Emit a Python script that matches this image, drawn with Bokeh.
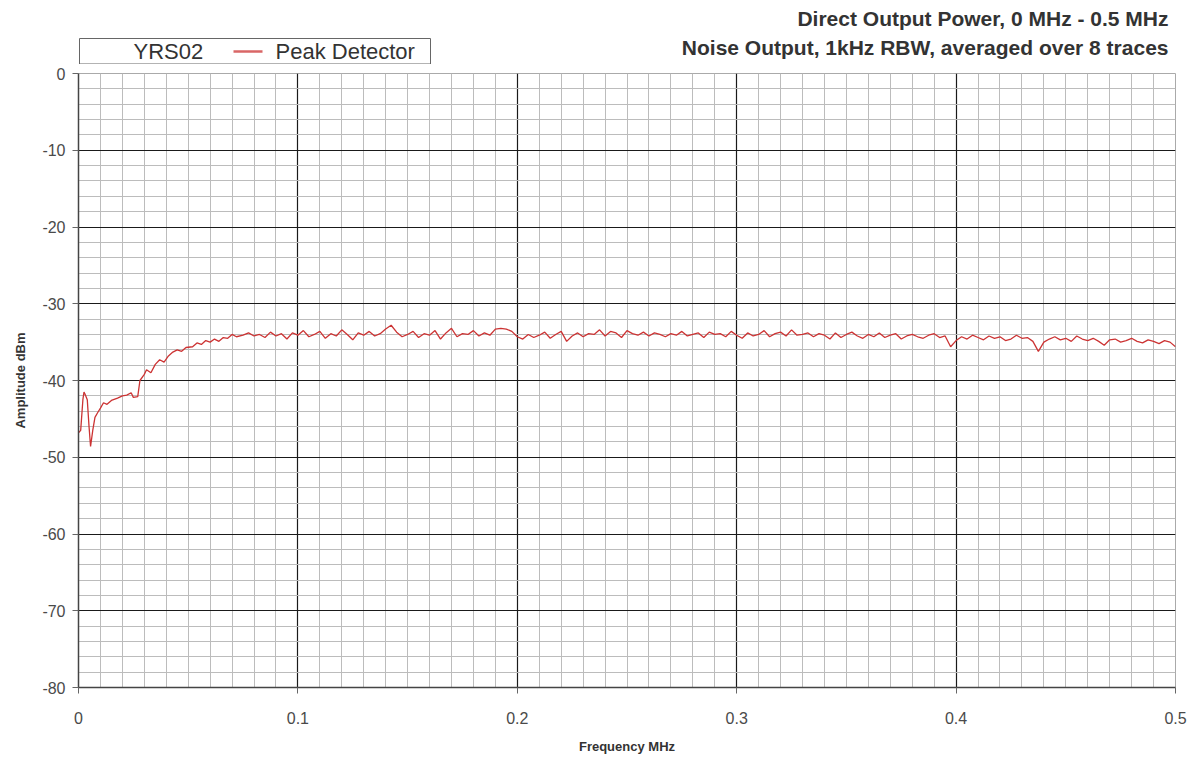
from bokeh.plotting import figure
from bokeh.layouts import column
from bokeh.models import FixedTicker, Label, Range1d
from bokeh.embed import file_html
from bokeh.resources import INLINE

# ---- data ----
freq_start = [0.0, 0.001, 0.002, 0.0025, 0.003, 0.004, 0.0048, 0.0055, 0.0065, 0.0075,
              0.0087, 0.010, 0.0114, 0.013, 0.015, 0.0178, 0.020, 0.022, 0.024, 0.025,
              0.027, 0.028, 0.030, 0.031, 0.033, 0.035, 0.037, 0.039, 0.041, 0.043,
              0.045, 0.047, 0.049, 0.052, 0.054, 0.056, 0.058, 0.060, 0.062, 0.064,
              0.066, 0.068, 0.070, 0.072, 0.075, 0.0775, 0.080, 0.0825]
amp_start = [-46.8, -46.5, -42.5, -41.5, -41.8, -42.5, -46.0, -48.6, -46.5, -44.8,
             -44.2, -43.6, -42.9, -43.1, -42.6, -42.3, -42.0, -41.9, -41.6, -42.2,
             -42.1, -40.0, -39.2, -38.6, -39.0, -37.9, -37.3, -37.6, -36.8, -36.3,
             -36.0, -36.2, -35.7, -35.6, -35.1, -35.3, -34.8, -35.0, -34.6, -34.9,
             -34.4, -34.5, -34.0, -34.3, -34.1, -33.8, -34.2, -34.0]

# 0.085 .. 0.5 MHz, 2.5 kHz steps
step_khz = 2.5
amp_flat = [
    -34.4, -33.7, -34.2, -33.9, -34.6, -33.8, -34.1, -33.5, -34.3, -34.0,
    -33.6, -34.5, -33.9, -34.2, -33.4, -34.0, -34.7, -33.8, -34.1, -33.6,
    -34.2, -33.9, -33.3, -32.8, -33.7, -34.3, -34.0, -33.6, -34.4, -33.9,
    -34.1, -33.5, -34.6, -33.8, -33.2, -34.3, -33.9, -34.0, -33.5, -34.2,
    -33.8, -34.1, -33.3, -33.2, -33.3, -33.6, -34.3, -34.6, -34.0, -34.4,
    -34.1, -33.7, -34.5, -34.0, -33.6, -34.9, -34.2, -33.8, -34.3, -33.9,
    -34.0, -33.4, -34.2, -33.6, -33.8, -34.4, -33.5, -33.9, -34.1, -33.7,
    -34.2, -33.8, -34.0, -34.3, -33.9, -34.1, -33.6, -34.2, -34.0, -33.8,
    -34.4, -33.7, -34.0, -33.9, -34.3, -33.6, -34.1, -34.5, -33.8, -34.2,
    -34.0, -33.5, -34.3, -33.9, -33.7, -34.2, -33.4, -34.1, -34.0, -33.8,
    -34.3, -33.9, -34.1, -34.6, -33.8, -34.4, -34.0, -33.7, -34.2, -34.5,
    -34.0, -34.3, -33.8, -34.4, -34.1, -33.9, -34.6, -34.2, -34.0, -34.3,
    -34.5, -34.1, -33.9, -34.4, -34.2, -35.6, -34.8, -34.3, -34.6, -34.1,
    -34.4, -34.7, -34.2, -34.5, -34.3, -34.8, -34.6, -34.1, -34.5, -34.4,
    -34.9, -36.2, -35.0, -34.6, -34.3, -34.7, -34.5, -34.9, -34.2, -34.6,
    -34.8, -34.5, -34.9, -35.4, -34.7, -34.6, -35.0, -34.8, -34.5, -34.9,
    -35.1, -34.7, -34.9, -35.2, -34.8, -35.0, -35.6]
freq_flat = [round((85 + i * step_khz) / 1000.0, 4) for i in range(len(amp_flat))]

freq = freq_start + freq_flat
amp = amp_start + amp_flat

x_ticks = [0, 0.1, 0.2, 0.3, 0.4, 0.5]
y_ticks = [0, -10, -20, -30, -40, -50, -60, -70, -80]
y_tick_labels = ["0", "-10", "-20", "-30", "-40", "-50", "-60", "-70", "-80"]

title1 = "Direct Output Power, 0 MHz - 0.5 MHz"
title2 = "Noise Output, 1kHz RBW, averaged over 8 traces"
legend_name = "YRS02"
series_name = "Peak Detector"

FONT = "Liberation Sans"
LINE_COLOR = "#cc3333"
W = 1194
LEFT, RIGHT = 78, 19

# ---------------- header (titles + legend box) ----------------
# its frame is aligned with the chart frame by the column layout (page x 78..1175)
hdr = figure(width=W, height=64, output_backend="svg", toolbar_location=None,
             x_range=Range1d(LEFT, W - RIGHT), y_range=Range1d(64, 0),
             x_axis_type=None, y_axis_type=None,
             min_border_left=LEFT, min_border_right=RIGHT,
             min_border_top=0, min_border_bottom=0)
hdr.outline_line_color = None
hdr.xgrid.visible = False
hdr.ygrid.visible = False
hdr.background_fill_color = "white"
hdr.border_fill_color = "white"

for txt, yy in ((title1, 18), (title2, 47)):
    hdr.add_layout(Label(x=1168, y=yy, text=txt, text_align="right",
                         text_baseline="middle", text_font=FONT,
                         text_font_size="21px", text_font_style="bold",
                         text_color="#333333"))

# legend box
hdr.quad(left=[79], right=[430], top=[38], bottom=[63.5],
         fill_color="white", line_color="#666666", line_width=1)
hdr.add_layout(Label(x=133, y=51, text=legend_name, text_align="left",
                     text_baseline="middle", text_font=FONT,
                     text_font_size="22px", text_color="#333333"))
hdr.line([233, 262], [51, 51], line_color=LINE_COLOR, line_width=2.5, line_alpha=0.75)
hdr.add_layout(Label(x=275, y=51, text=series_name, text_align="left",
                     text_baseline="middle", text_font=FONT,
                     text_font_size="22px", text_color="#333333"))

# ---------------- main chart ----------------
p = figure(width=W, height=692, output_backend="svg", toolbar_location=None,
           x_range=Range1d(0, 0.5), y_range=Range1d(-80, 0),
           min_border_left=LEFT, min_border_right=RIGHT, min_border_top=9,
           min_border_bottom=68)
p.background_fill_color = "white"
p.border_fill_color = "white"
p.outline_line_color = "#aaaaaa"

p.xgrid.ticker = FixedTicker(ticks=[0.1, 0.2, 0.3, 0.4],
                             minor_ticks=[i / 100 for i in range(1, 51)])
p.ygrid.ticker = FixedTicker(ticks=[-10, -20, -30, -40, -50, -60, -70],
                             minor_ticks=[-2 * i for i in range(0, 41)])
for g in (p.xgrid, p.ygrid):
    g.grid_line_color = "#1a1a1a"
    g.grid_line_width = 1.2
    g.minor_grid_line_color = "#bcbcbc"
    g.minor_grid_line_width = 1

p.xaxis.ticker = FixedTicker(ticks=x_ticks)
p.yaxis.ticker = FixedTicker(ticks=y_ticks)
p.yaxis.major_label_overrides = {t: s for t, s in zip(y_ticks, y_tick_labels)}
for ax in (p.xaxis, p.yaxis):
    ax.axis_line_color = "#444444"
    ax.axis_line_width = 1.5
    ax.major_tick_line_color = "#666666"
    ax.major_tick_out = 6
    ax.major_tick_in = 0
    ax.minor_tick_line_color = None
    ax.major_label_text_font = FONT
    ax.major_label_text_font_size = "16px"
    ax.major_label_text_color = "#4a4a4a"
    ax.axis_label_text_font = FONT
    ax.axis_label_text_font_size = "13px"
    ax.axis_label_text_font_style = "bold"
    ax.axis_label_text_color = "#333333"
p.xaxis.major_label_standoff = 18
p.yaxis.major_label_standoff = 7
p.xaxis.axis_label = "Frequency MHz"
p.yaxis.axis_label = "Amplitude dBm"
p.xaxis.axis_label_standoff = 12
p.yaxis.axis_label_standoff = 11

p.line(freq, amp, line_color=LINE_COLOR, line_width=1.3)

layout = column(hdr, p, spacing=0)
open("out.html", "w").write(file_html(layout, INLINE))
